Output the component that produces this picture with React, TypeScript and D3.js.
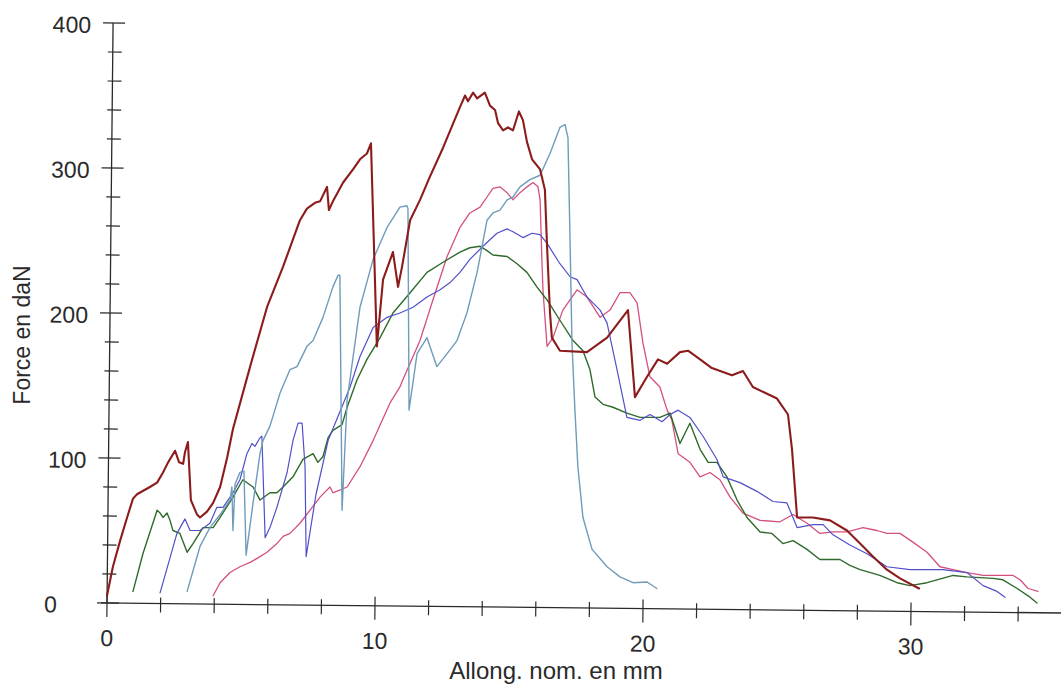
import React from "react";
import * as d3 from "d3";

// Allong. nom. (mm) / Force (daN)
const brownCurve: [number, number][] = [
  [0, 5], [0.22, 25], [0.49, 43], [0.75, 59], [0.97, 72], [1.12, 75], [1.6, 80], [1.87, 83],
  [2.09, 90], [2.28, 97], [2.54, 105], [2.69, 97], [2.84, 96], [2.91, 104], [3.02, 111],
  [3.13, 71], [3.36, 61], [3.47, 59], [3.73, 63], [3.96, 69], [4.22, 80], [4.48, 100],
  [4.7, 120], [5.34, 163], [5.97, 204], [6.57, 232], [7.2, 264], [7.46, 272], [7.76, 276],
  [7.95, 277], [8.21, 287], [8.28, 271], [8.43, 277], [8.81, 290], [9.18, 299], [9.44, 306],
  [9.7, 310], [9.85, 317], [10.07, 177], [10.3, 223], [10.67, 242], [10.86, 218], [11.01, 232],
  [11.31, 264], [11.68, 278], [12.05, 294], [12.54, 314], [13.17, 342], [13.36, 350],
  [13.47, 346], [13.66, 352], [13.81, 348], [14.1, 352], [14.29, 343], [14.48, 340],
  [14.59, 331], [14.78, 326], [14.96, 328], [15.15, 326], [15.37, 339], [15.52, 333],
  [15.67, 318], [15.86, 306], [16.16, 299], [16.34, 285], [16.42, 246], [16.53, 200],
  [16.6, 183], [16.9, 174], [17.91, 173], [18.66, 183], [19.44, 202], [19.7, 142],
  [20.15, 156], [20.56, 168], [20.9, 165], [21.38, 173], [21.68, 174], [22.13, 168],
  [22.57, 162], [23.32, 157], [23.73, 160], [24.1, 149], [24.55, 145], [25.0, 141],
  [25.41, 130], [25.56, 106], [25.75, 59], [26.34, 59], [26.98, 57], [27.61, 50], [28.1, 41],
  [28.58, 32], [29.1, 23], [29.59, 17], [30.3, 10],
];

const steelCurve: [number, number][] = [
  [2.99, 8], [3.47, 39], [3.84, 52], [4.22, 61], [4.59, 71], [4.66, 80], [4.7, 50], [4.78, 82],
  [4.96, 90], [5.11, 91], [5.19, 33], [5.45, 69], [5.71, 103], [5.82, 112], [6.08, 122],
  [6.46, 145], [6.83, 161], [7.09, 163], [7.46, 177], [7.69, 181], [8.06, 197], [8.43, 218],
  [8.62, 226], [8.69, 226], [8.77, 64], [8.96, 140], [9.44, 204], [9.93, 237], [10.45, 259],
  [10.93, 273], [11.19, 274], [11.23, 272], [11.27, 133], [11.57, 172], [11.94, 183],
  [12.31, 163], [12.69, 172], [13.06, 181], [13.43, 200], [13.81, 228], [14.18, 264],
  [14.4, 269], [14.66, 271], [14.93, 278], [15.15, 280], [15.41, 287], [15.78, 292],
  [16.16, 295], [16.53, 310], [16.9, 328], [17.09, 330], [17.2, 321], [17.28, 248],
  [17.35, 179], [17.46, 133], [17.57, 94], [17.76, 59], [18.1, 37], [18.66, 25], [19.14, 18],
  [19.63, 14], [20.15, 14.5], [20.52, 10],
];

const blueCurve: [number, number][] = [
  [1.98, 7], [2.61, 48], [2.91, 58], [3.1, 50], [3.47, 50], [3.84, 55], [4.1, 66], [4.33, 66],
  [4.7, 76], [4.96, 85], [5.22, 103], [5.41, 110], [5.52, 108], [5.71, 114], [5.78, 115],
  [5.9, 45], [6.08, 52], [6.34, 66], [6.72, 90], [6.94, 112], [7.13, 124], [7.28, 124],
  [7.39, 94], [7.43, 32], [7.8, 75], [8.25, 112], [9.07, 149], [9.44, 170], [9.93, 190],
  [10.45, 197], [10.93, 200], [11.42, 204], [11.94, 211], [12.43, 216], [12.8, 221],
  [13.17, 228], [13.54, 237], [14.03, 246], [14.55, 255], [14.93, 258], [15.15, 256],
  [15.52, 252], [15.86, 255], [16.16, 254], [16.42, 248], [16.9, 234], [17.28, 225],
  [17.54, 223], [17.91, 211], [18.13, 207], [18.4, 202], [18.66, 193], [19.03, 161],
  [19.4, 128], [19.89, 126], [20.26, 130], [20.71, 125], [21.01, 130], [21.31, 133],
  [21.75, 128], [22.24, 115], [22.76, 99], [22.99, 87], [23.62, 83], [24.25, 77], [24.85, 70],
  [25.37, 69], [25.75, 52], [26.34, 54], [26.72, 54], [27.09, 47], [27.72, 40], [28.36, 34],
  [29.1, 25], [29.96, 23], [30.6, 23], [31.19, 23], [32.09, 21], [32.69, 12], [33.21, 8],
  [33.51, 4],
];

const greenCurve: [number, number][] = [
  [0.97, 8], [1.34, 34], [1.87, 64], [1.98, 62], [2.09, 59], [2.24, 62], [2.35, 57],
  [2.46, 50], [2.72, 48], [2.99, 35], [3.21, 41], [3.58, 52], [3.96, 52], [4.22, 59],
  [4.7, 73], [5.07, 85], [5.45, 80], [5.71, 71], [6.08, 76], [6.34, 76], [6.57, 80],
  [6.94, 87], [7.31, 99], [7.69, 103], [7.87, 97], [8.06, 101], [8.25, 114], [8.43, 119],
  [8.77, 123], [8.96, 135], [9.33, 154], [9.7, 168], [10.19, 183], [10.67, 200],
  [11.31, 214], [11.94, 228], [12.54, 235], [13.17, 242], [13.54, 245], [13.92, 246],
  [14.18, 243], [14.4, 240], [14.93, 239], [15.3, 234], [15.67, 228], [16.04, 218],
  [16.42, 209], [16.9, 195], [17.39, 181], [17.76, 174], [18.02, 161], [18.21, 142],
  [18.51, 137], [18.88, 135], [19.4, 131], [19.89, 128], [20.63, 128], [21.01, 131],
  [21.38, 110], [21.75, 124], [22.13, 106], [22.43, 97], [22.76, 97], [23.13, 87],
  [23.51, 71], [23.88, 59], [24.37, 49], [24.81, 48], [25.22, 41], [25.6, 43], [26.12, 37],
  [26.6, 30], [27.35, 30], [27.72, 26], [28.1, 23], [28.84, 19], [29.48, 14], [29.96, 12],
  [30.6, 14], [31.57, 19], [32.09, 18], [33.06, 17], [33.43, 16], [33.96, 10], [34.44, 4],
  [34.7, 0],
];

const pinkCurve: [number, number][] = [
  [3.96, 5], [4.22, 14], [4.59, 21], [4.96, 25], [5.34, 28], [5.71, 32], [5.97, 35],
  [6.34, 41], [6.57, 46], [6.83, 48], [7.2, 55], [7.95, 73], [8.32, 80], [8.43, 76],
  [8.96, 80], [9.44, 94], [9.93, 112], [10.56, 138], [10.93, 149], [11.04, 154],
  [11.68, 181], [12.16, 209], [12.69, 239], [13.17, 259], [13.54, 269], [13.92, 273],
  [14.18, 280], [14.4, 286], [14.66, 287], [14.93, 283], [15.15, 278], [15.41, 283],
  [15.67, 287], [15.9, 290], [16.08, 287], [16.16, 278], [16.23, 235], [16.27, 215],
  [16.42, 177], [16.64, 183], [17.01, 202], [17.54, 216], [17.91, 211], [18.4, 197],
  [18.77, 202], [19.14, 214], [19.51, 214], [19.78, 207], [20.0, 179], [20.26, 156],
  [20.63, 149], [20.9, 133], [21.08, 126], [21.31, 103], [21.75, 97], [22.13, 87],
  [22.5, 90], [22.87, 85], [23.25, 73], [23.73, 62], [24.37, 57], [25.11, 56], [25.6, 61],
  [26.12, 55], [26.6, 48], [27.09, 49], [27.61, 49], [28.21, 52], [28.73, 50], [29.1, 48],
  [29.59, 48], [30.07, 42], [30.6, 35], [31.08, 25], [31.57, 23], [32.09, 21], [32.69, 19],
  [33.32, 19], [33.81, 19], [34.07, 16], [34.37, 10], [34.74, 8],
];

const xTickValues = d3.range(0, 35, 2);
const xTickLabels = [0, 10, 20, 30];
const yTickValues = d3.range(0, 401, 20);
const yTickLabels = [0, 100, 200, 300, 400];

const series = [
  { data: pinkCurve, color: "#d4507f", width: 1.3 },
  { data: greenCurve, color: "#2f6a2a", width: 1.4 },
  { data: blueCurve, color: "#5050c8", width: 1.2 },
  { data: steelCurve, color: "#6e9cba", width: 1.4 },
  { data: brownCurve, color: "#8c1c1c", width: 2.1 },
];

const App = () => {
  const width = 1061;
  const height = 688;
  const x = d3.scaleLinear().domain([0, 10]).range([107, 375]);
  const y = d3.scaleLinear().domain([0, 400]).range([603, 23]);
  const line = d3
    .line<[number, number]>()
    .x(d => x(d[0]))
    .y(d => y(d[1]));

  const x0 = x(0);
  const y0 = y(0);
  const font = "'Liberation Sans', Arial, sans-serif";
  const ink = "#2a2a2a";

  return (
    <svg
      width={width}
      height={height}
      style={{ position: "absolute", left: 0, top: 0, background: "#fff" }}
    >
      {/* axes, slightly tilted as in the scan */}
      <g transform={`rotate(0.6, ${x0}, ${y0})`} stroke={ink} fill="none">
        <line x1={x0 - 6} x2={1070} y1={y0} y2={y0} strokeWidth={1.3} />
        <line x1={x0} x2={x0} y1={y(400)} y2={y0} strokeWidth={1.3} />
        {xTickValues.map(v => {
          const major = v % 10 === 0;
          return (
            <line
              key={"xt" + v}
              x1={x(v)}
              x2={x(v)}
              y1={y0 - (major ? 9 : 6)}
              y2={y0 + (major ? 14 : 9)}
              strokeWidth={1.2}
            />
          );
        })}
        {yTickValues.map(v => {
          const major = v % 100 === 0;
          return (
            <line
              key={"yt" + v}
              x1={x0 - (major ? 10 : 5)}
              x2={x0 + (major ? 12 : 9)}
              y1={y(v)}
              y2={y(v)}
              strokeWidth={1.2}
            />
          );
        })}
        <g fill={ink} stroke="none" fontFamily={font} fontSize={23}>
          {xTickLabels.map(v => (
            <text key={"xl" + v} x={x(v)} y={y0 + 43} textAnchor="middle">
              {v}
            </text>
          ))}
          {yTickLabels.map(v => (
            <text
              key={"yl" + v}
              x={v === 0 ? x0 - 50 : x0 - 22}
              y={y(v) + 10}
              textAnchor="end"
            >
              {v}
            </text>
          ))}
        </g>
      </g>

      <text
        x={556}
        y={679}
        textAnchor="middle"
        fontFamily={font}
        fontSize={24}
        fill={ink}
      >
        Allong. nom. en mm
      </text>
      <text
        transform={`translate(30, 335) rotate(-90)`}
        textAnchor="middle"
        fontFamily={font}
        fontSize={23}
        fill={ink}
      >
        Force en daN
      </text>

      <g fill="none" strokeLinejoin="round" strokeLinecap="round">
        {series.map((s, i) => (
          <path key={i} d={line(s.data) || ""} stroke={s.color} strokeWidth={s.width} />
        ))}
      </g>
    </svg>
  );
};

export default App;
